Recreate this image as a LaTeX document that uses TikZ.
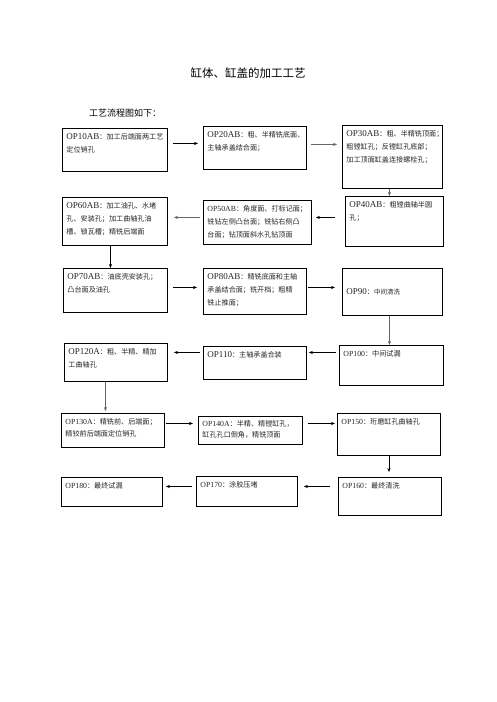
\documentclass[tikz,border=0pt]{standalone}
\usepackage{fontspec}
\setmainfont{Liberation Serif}
\newfontfamily\zh{Noto Sans CJK SC}
\usetikzlibrary{arrows.meta}
\newcommand{\oplab}[1]{{\rmfamily\fontsize{9}{13}\selectfont #1}}
\newcommand{\oplabs}[1]{{\rmfamily\fontsize{7.8}{13}\selectfont #1}}
\newcommand{\opcell}[4][t]{\parbox[t][#3pt][#1]{#2pt}{#4}}

\begin{document}
\begin{tikzpicture}[x=1pt, y=-1pt]
    \tikzset{
        opbox/.style={rectangle, draw, line width=0.9pt, anchor=north west,
                      inner xsep=4pt, inner ysep=5pt,
                      font=\zh\fontsize{7.1}{13}\selectfont, text=black!85},
        flow/.style={line width=0.8pt, -{Stealth[length=4pt, width=3.2pt]}},
        flowg/.style={flow, draw=black!60, line width=1.3pt}
    }
    \useasboundingbox (0,0) rectangle (496,702);
    \node (title) at (248,73) {\zh\fontsize{11.5}{14}\selectfont 缸体、缸盖的加工工艺};
    \node[anchor=west, inner sep=0pt] (intro) at (89,113)
        {\zh\fontsize{9}{11}\selectfont 工艺流程图如下：};

    % row 1
    \node[opbox] (op10) at (62,128)
        {\opcell{97}{33}{\oplab{OP10AB}：加工后端面两工艺\\定位销孔}};
    \node[opbox] (op20) at (203,126)
        {\opcell{95}{33}{\oplab{OP20AB}：粗、半精铣底面、\\主轴承盖结合面；}};
    \node[opbox] (op30) at (342,125)
        {\opcell{92}{53}{\oplab{OP30AB}：粗、半精铣顶面；\\粗镗缸孔；反镗缸孔底部；\\加工顶面缸盖连接螺栓孔；}};
    % row 2
    \node[opbox] (op40) at (345,196)
        {\opcell{90}{40}{\oplab{OP40AB}：粗镗曲轴半圆\\孔；}};
    \node[opbox] (op50) at (203,200)
        {\opcell{100}{34}{\oplabs{OP50AB}：角度面、打标记面；\\铣钻左侧凸台面；铣钻右侧凸\\台面；钻顶面斜水孔钻顶面}};
    \node[opbox] (op60) at (62,197)
        {\opcell{97}{38}{\oplab{OP60AB}：加工油孔、水堵\\孔、安装孔；加工曲轴孔油\\槽、锁瓦槽；精铣后端面}};
    % row 3
    \node[opbox] (op70) at (63,268)
        {\opcell{96}{34}{\oplab{OP70AB}：油底壳安装孔；\\凸台面及油孔}};
    \node[opbox] (op80) at (203,268)
        {\opcell{95}{36}{\oplab{OP80AB}：精铣底面和主轴\\承盖结合面；铣开档；粗精\\铣止推面；}};
    \node[opbox] (op90) at (342,268)
        {\opcell[c]{92}{37}{\oplab{OP90}：{\fontsize{6.5}{13}\selectfont 中间清洗}}};
    % row 4
    \node[opbox] (op100) at (339,345)
        {\opcell{96}{30}{\oplabs{OP100}：中间试漏}};
    \node[opbox] (op110) at (203,346)
        {\opcell{95}{23}{\oplab{OP110}：主轴承盖合装}};
    \node[opbox] (op120) at (64,343)
        {\opcell{95}{28}{\oplab{OP120A}：粗、半精、精加\\工曲轴孔}};
    % row 5
    \node[opbox, font=\zh\fontsize{7.1}{12}\selectfont] (op130) at (61,413)
        {\opcell{95}{24}{\oplabs{OP130A}：精铣前、后端面；\\精铰前后端面定位销孔}};
    \node[opbox, inner ysep=4pt, font=\zh\fontsize{7.1}{11}\selectfont] (op140) at (198,416)
        {\opcell{96}{20}{\oplabs{OP140A}：半精、精镗缸孔，\\缸孔孔口倒角，精铣顶面}};
    \node[opbox] (op150) at (337,413)
        {\opcell{95}{32}{\oplabs{OP150}：珩磨缸孔曲轴孔}};
    % row 6
    \node[opbox] (op160) at (338,477)
        {\opcell{95}{28}{\oplabs{OP160}：最终清洗}};
    \node[opbox] (op170) at (196,476)
        {\opcell{93}{20}{\oplabs{OP170}：涂胶压堵}};
    \node[opbox] (op180) at (61,477)
        {\opcell{93}{19}{\oplabs{OP180}：最终试漏}};

    % connectors
    \draw[flow, shorten <=5pt, shorten >=5pt] ([yshift=6.5]op10.east) -- ([yshift=6.5]op10.east -| op20.west);
    \draw[flowg, shorten <=4pt, shorten >=5pt] ([yshift=3.5]op20.east) -- ([yshift=3.5]op20.east -| op30.west);
    \draw[flowg] ([xshift=-3]op30.south) -- ([xshift=-3]op30.south |- op40.north);
    \draw[flow, shorten <=10pt, shorten >=4pt] ([yshift=4]op40.west) -- ([yshift=4]op40.west -| op50.east);
    \draw[flowg, shorten <=3pt, shorten >=6pt] ([yshift=5]op50.west) -- ([yshift=5]op50.west -| op60.east);
    \draw[flow] ([xshift=-4.5]op60.south) -- ([xshift=-4.5]op60.south |- op70.north);
    \draw[flow, shorten <=5pt, shorten >=6pt] ([yshift=3]op70.east) -- ([yshift=3]op70.east -| op80.west);
    \draw[flow, shorten <=1pt, shorten >=7pt] ([yshift=4]op80.east) -- ([yshift=4]op80.east -| op90.west);
    \draw[flowg] ([xshift=-3]op90.south) -- ([xshift=-3]op90.south |- op100.north);
    \draw[flow, shorten <=3pt, shorten >=2pt] ([yshift=13]op100.west) -- ([yshift=13]op100.west -| op110.east);
    \draw[flow, shorten <=3pt, shorten >=6pt] ([yshift=10.5]op110.west) -- ([yshift=10.5]op110.west -| op120.east);
    \draw[flowg, shorten >=2pt] ([xshift=-10.5]op120.south) -- ([xshift=-10.5]op120.south |- op130.north);
    \draw[flow, shorten <=1pt, shorten >=5pt] ([yshift=7]op130.east) -- ([yshift=7]op130.east -| op140.west);
    \draw[flow, shorten <=5pt, shorten >=2pt] ([yshift=7]op140.east) -- ([yshift=7]op140.east -| op150.west);
    \draw[flow, shorten >=5pt] (op150.south) -- (op150.south |- op160.north);
    \draw[flow, shorten <=8pt, shorten >=6pt] ([yshift=10]op160.west) -- ([yshift=10]op160.west -| op170.east);
    \draw[flow, shorten <=4pt, shorten >=3pt] ([yshift=5]op170.west) -- ([yshift=5]op170.west -| op180.east);
\end{tikzpicture}
\end{document}
